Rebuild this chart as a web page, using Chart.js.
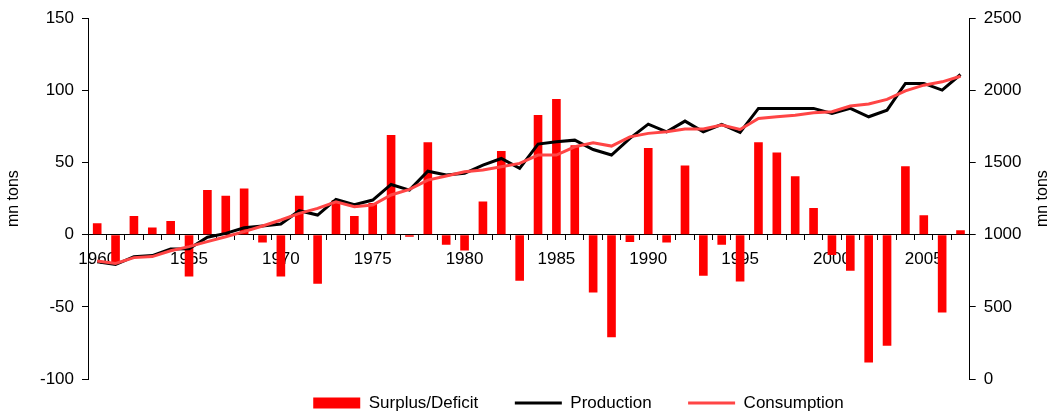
<!DOCTYPE html>
<html>
<head>
<meta charset="utf-8">
<script src="https://cdn.jsdelivr.net/npm/chart.js@4"></script>
<style>
  html, body { margin: 0; padding: 0; background: #fff; }
  #wrap { width: 1053px; height: 416px; }
</style>
</head>
<body>
<div id="wrap"><canvas id="c" width="1053" height="416"></canvas></div>
<script>
const years = [];
for (let y = 1960; y <= 2007; y++) years.push(y);

const surplusDeficit = [8, -20, 13, 5, 9.5, -29, 31, 27, 32, -5.5,
  -29, 27, -34, 24, 13, 22, 69, -1.5, 64, -7,
  -11, 23, 58, -32, 83, 94, 62, -40, -71, -5,
  60, -5.5, 48, -28.5, -7, -32.5, 64, 57, 40.5, 18.5,
  -14, -25, -88.5, -77, 47.5, 13.5, -54, 3];

const production = [813, 793, 848, 855, 901, 903, 982, 1009, 1048, 1060,
  1074, 1166, 1136, 1245, 1208, 1240, 1348, 1309, 1440, 1413,
  1425, 1482, 1528, 1459, 1628, 1644, 1655, 1590, 1552, 1667,
  1766, 1713, 1787, 1713, 1764, 1708, 1875, 1875, 1875, 1875,
  1840, 1875, 1817, 1863, 2048, 2048, 2002, 2110];

const consumption = [818, 800, 841, 848, 889, 917, 952, 986, 1021, 1060,
  1102, 1148, 1182, 1228, 1194, 1205, 1275, 1314, 1378, 1406,
  1436, 1448, 1471, 1494, 1552, 1552, 1609, 1637, 1614, 1678,
  1702, 1713, 1732, 1732, 1759, 1729, 1805, 1817, 1828, 1845,
  1852, 1891, 1905, 1937, 1997, 2036, 2059, 2098];

const leftTicks = { min: -100, max: 150, step: 50 };
const rightTicks = { min: 0, max: 2500, step: 500 };
const axisTitle = 'mn tons';

const FONT = 'Liberation Sans, Arial, sans-serif';

const rightTitlePlugin = {
  id: 'rightTitle',
  afterDraw(chart) {
    const ctx = chart.ctx;
    const ca = chart.chartArea;
    ctx.save();
    ctx.font = '16px ' + FONT;
    ctx.fillStyle = '#000';
    ctx.textAlign = 'center';
    ctx.textBaseline = 'middle';
    ctx.translate(1043, (ca.top + ca.bottom) / 2);
    ctx.rotate(-Math.PI / 2);
    ctx.fillText(axisTitle, 0, 0);
    ctx.restore();
  }
};

const legendShift = {
  id: 'legendShift',
  afterLayout(chart) {
    const lg = chart.legend;
    if (!lg) return;
    lg.left += 52; lg.right += 52;
    lg.top -= 21;
    lg.bottom = chart.height + 60;
  }
};

new Chart(document.getElementById('c'), {
  data: {
    labels: years,
    datasets: [
      {
        type: 'bar',
        label: 'Surplus/Deficit',
        data: surplusDeficit,
        backgroundColor: '#FF0000',
        borderWidth: 0,
        yAxisID: 'y',
        barPercentage: 0.47,
        categoryPercentage: 1.0,
        pointStyle: 'rect',
        order: 3
      },
      {
        type: 'line',
        label: 'Production',
        data: production,
        borderColor: '#000000',
        backgroundColor: '#000000',
        borderWidth: 3,
        pointRadius: 0,
        tension: 0,
        yAxisID: 'y1',
        pointStyle: 'line',
        order: 2
      },
      {
        type: 'line',
        label: 'Consumption',
        data: consumption,
        borderColor: '#FF4545',
        backgroundColor: '#FF4545',
        borderWidth: 3,
        pointRadius: 0,
        tension: 0,
        yAxisID: 'y1',
        pointStyle: 'line',
        order: 1
      }
    ]
  },
  options: {
    responsive: false,
    animation: false,
    events: [],
    layout: { padding: { top: 18, left: 0, right: 0, bottom: 0 } },
    plugins: {
      tooltip: { enabled: false },
      legend: {
        position: 'bottom',
        maxHeight: 37,
        labels: {
          usePointStyle: true,
          pointStyleWidth: 47,
          boxHeight: 11,
          padding: 36.5,
          color: '#000',
          font: { family: FONT, size: 17 },
          sort: (a, b) => a.datasetIndex - b.datasetIndex
        }
      }
    },
    scales: {
      x: {
        type: 'category',
        position: { y: 0 },
        z: 1,
        afterFit(scale) { scale.height = 0; },
        grid: {
          display: true,
          drawOnChartArea: false,
          drawTicks: true,
          tickLength: 5,
          color: '#000',
          offset: true
        },
        border: { display: true, color: '#000', width: 1 },
        ticks: {
          autoSkip: false,
          maxRotation: 0,
          minRotation: 0,
          padding: 9,
          color: '#000',
          font: { family: FONT, size: 17 },
          callback: function (v, i) { return years[i] % 5 === 0 ? String(years[i]) : ''; }
        }
      },
      y: {
        type: 'linear',
        position: 'left',
        min: leftTicks.min,
        max: leftTicks.max,
        afterFit(scale) { scale.width = 88; },
        grid: {
          drawOnChartArea: false,
          drawTicks: true,
          tickLength: 6,
          color: '#000'
        },
        border: { display: true, color: '#000', width: 1 },
        ticks: {
          stepSize: leftTicks.step,
          padding: 8,
          color: '#000',
          font: { family: FONT, size: 17 },
          callback: (v) => String(v)
        },
        title: {
          display: true,
          text: axisTitle,
          color: '#000',
          font: { family: FONT, size: 16 },
          padding: { top: 4, bottom: 0 }
        }
      },
      y1: {
        type: 'linear',
        position: 'right',
        min: rightTicks.min,
        max: rightTicks.max,
        afterFit(scale) { scale.width = 83.3; },
        grid: {
          drawOnChartArea: false,
          drawTicks: true,
          tickLength: 6,
          color: '#000'
        },
        border: { display: true, color: '#000', width: 1 },
        ticks: {
          stepSize: rightTicks.step,
          padding: 8,
          color: '#000',
          font: { family: FONT, size: 17 },
          callback: (v) => String(v)
        }
      }
    }
  },
  plugins: [rightTitlePlugin, legendShift]
});
</script>
</body>
</html>
